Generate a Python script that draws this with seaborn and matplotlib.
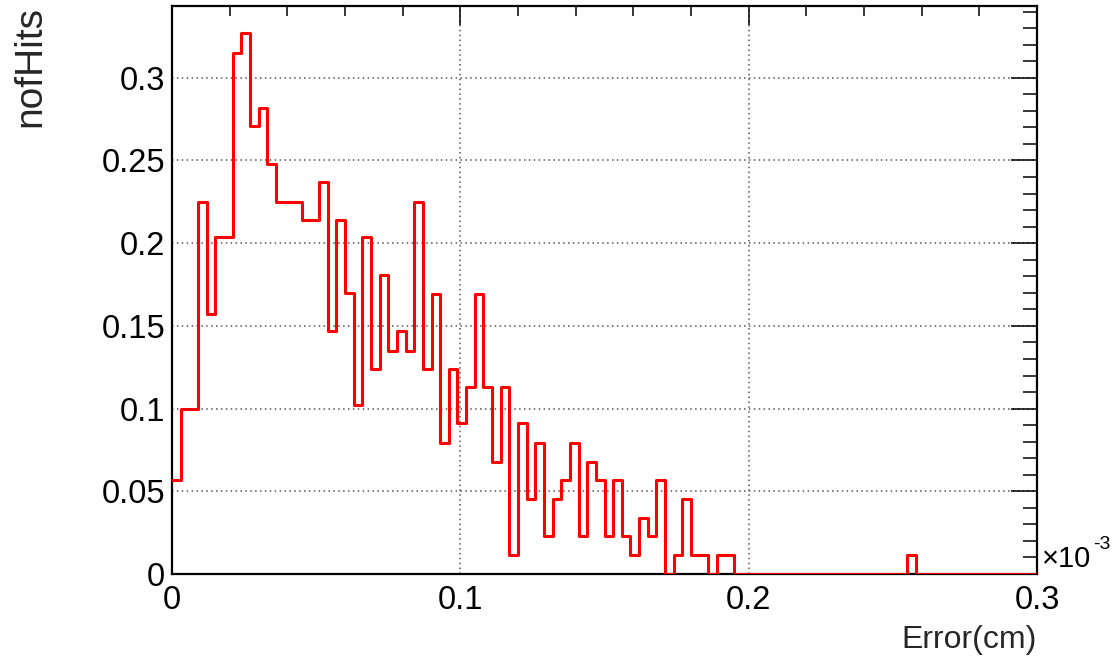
import numpy as np
import pandas as pd
import matplotlib
matplotlib.use("Agg")
import matplotlib.pyplot as plt
import seaborn as sns
from matplotlib.ticker import MultipleLocator

# ---- data (x in units of 1e-3 cm) ----
x_min, x_max, n_bins = 0.0, 0.3, 100
hist_values = [
    0.057, 0.100, 0.100, 0.225, 0.157, 0.204, 0.204, 0.315, 0.327, 0.271,
    0.282, 0.248, 0.225, 0.225, 0.225, 0.214, 0.214, 0.237, 0.147, 0.214,
    0.170, 0.102, 0.204, 0.124, 0.181, 0.135, 0.147, 0.135, 0.225, 0.124,
    0.169, 0.079, 0.124, 0.091, 0.113, 0.169, 0.113, 0.068, 0.113, 0.0114,
    0.091, 0.0455, 0.079, 0.023, 0.0455, 0.057, 0.079, 0.023, 0.068, 0.057,
    0.023, 0.057, 0.023, 0.0114, 0.034, 0.023, 0.057, 0.0, 0.0114, 0.0455,
    0.0114, 0.0114, 0.0, 0.0114, 0.0114, 0.0, 0.0, 0.0, 0.0, 0.0,
    0.0, 0.0, 0.0, 0.0, 0.0, 0.0, 0.0, 0.0, 0.0, 0.0,
    0.0, 0.0, 0.0, 0.0, 0.0, 0.0114, 0.0, 0.0, 0.0, 0.0,
    0.0, 0.0, 0.0, 0.0, 0.0, 0.0, 0.0, 0.0, 0.0, 0.0,
]
x_label = "Error(cm)"
y_label = "nofHits"
x_ticks = [0, 0.1, 0.2, 0.3]
x_tick_labels = ["0", "0.1", "0.2", "0.3"]
y_ticks = [0, 0.05, 0.1, 0.15, 0.2, 0.25, 0.3]
y_tick_labels = ["0", "0.05", "0.1", "0.15", "0.2", "0.25", "0.3"]
exp_base = "\u00d710"
exp_power = "-3"

edges = np.linspace(x_min, x_max, n_bins + 1)
centers = 0.5 * (edges[:-1] + edges[1:])
df = pd.DataFrame({"error": centers, "w": hist_values})

sns.set_style("white")
fam = ["Liberation Sans", "DejaVu Sans"]
plt.rcParams["font.family"] = fam

fig = plt.figure(figsize=(11.13, 6.65), dpi=100)
ax = fig.add_axes([172 / 1113, 91 / 665, 865 / 1113, 568 / 665])

sns.histplot(data=df, x="error", weights="w", bins=n_bins, binrange=(x_min, x_max),
             element="step", fill=False, color="#ff0000", linewidth=2.2,
             zorder=3, ax=ax)

ax.set_xlim(x_min, x_max)
ax.set_ylim(0, 0.3434)

ax.set_xticks(x_ticks)
ax.set_xticklabels(x_tick_labels)
ax.set_yticks(y_ticks)
ax.set_yticklabels(y_tick_labels)
ax.xaxis.set_minor_locator(MultipleLocator(0.02))
ax.yaxis.set_minor_locator(MultipleLocator(0.01))

fs = 23.5
ax.tick_params(axis="both", which="both", direction="in", top=True, right=True,
               width=1.1, color="black", labelsize=fs, labelcolor="black")
ax.tick_params(axis="y", which="major", length=19, pad=5)
ax.tick_params(axis="y", which="minor", length=10)
ax.tick_params(axis="x", which="major", length=14, pad=8)
ax.tick_params(axis="x", which="minor", length=7)

ax.grid(True, which="major", color="#555555", linestyle=(0, (1, 2.2)), linewidth=1.1)
for s in ax.spines.values():
    s.set_visible(True)
    s.set_linewidth(1.6)
    s.set_color("black")

ax.set_xlabel(x_label, fontsize=23, loc="right")
ax.xaxis.set_label_coords(1.0, -0.09)
ax.xaxis.label.set_va("top")
ax.set_ylabel(y_label, fontsize=28, loc="top")
ax.yaxis.set_label_coords(-0.143, 1.0)

ax.text(1.006, 0.026, exp_base, transform=ax.transAxes,
        fontsize=21, ha="left", va="center", color="black")
ax.text(1.0645, 0.052, exp_power, transform=ax.transAxes,
        fontsize=14, ha="left", va="center", color="black")

fig.savefig("out.png", dpi=100)
